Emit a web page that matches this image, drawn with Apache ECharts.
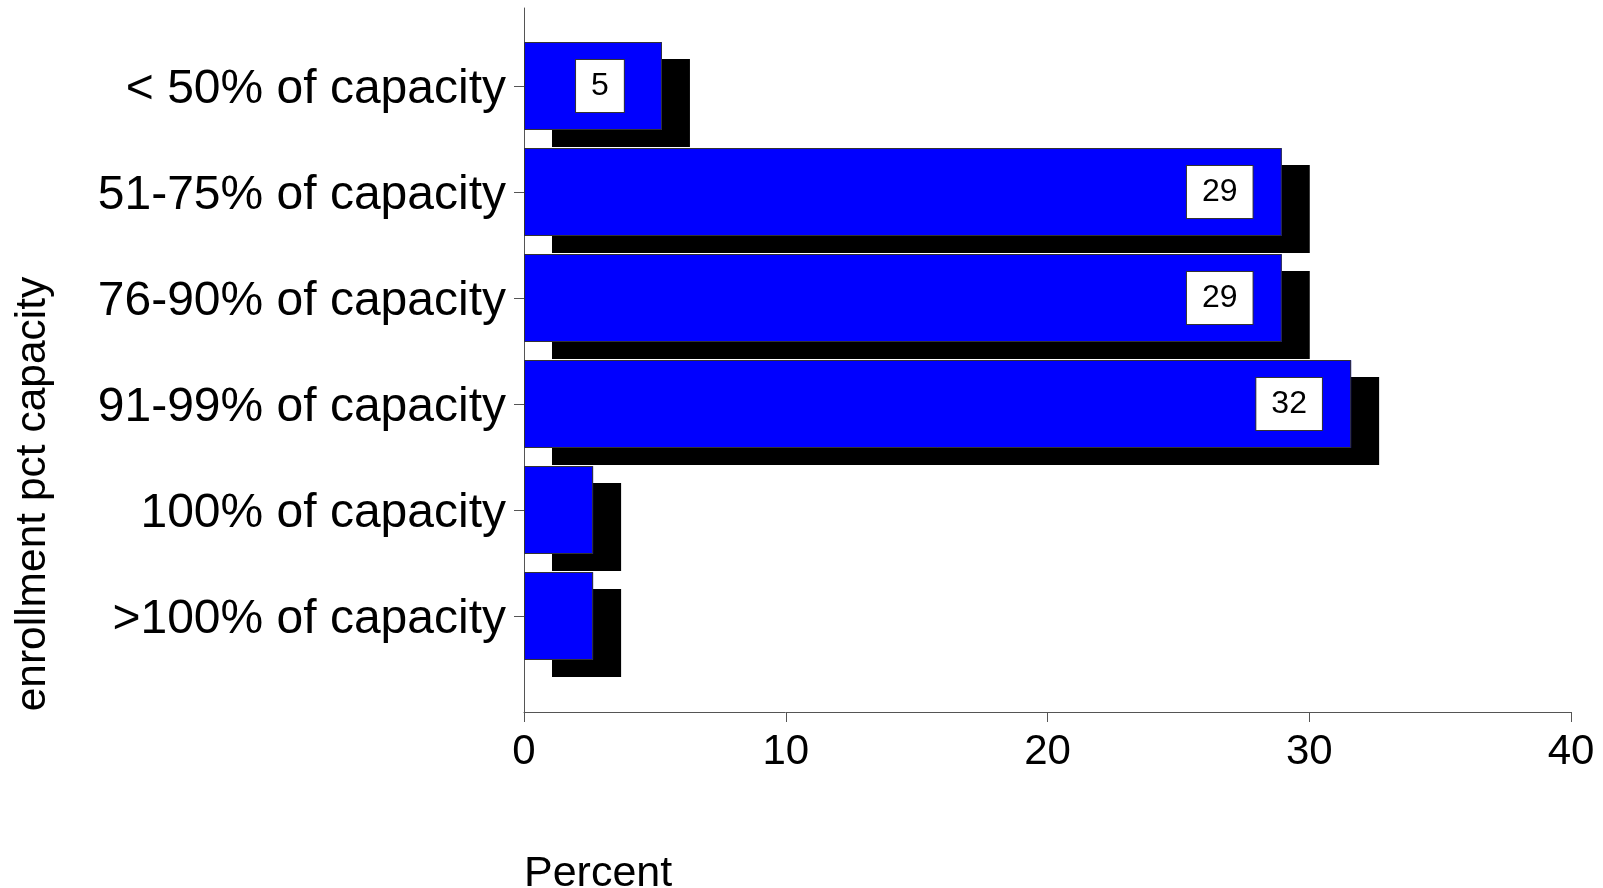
<!DOCTYPE html>
<html>
<head>
<meta charset="utf-8">
<script src="https://cdn.jsdelivr.net/npm/echarts@6/dist/echarts.min.js"></script>
<style>html,body{margin:0;padding:0;background:#fff}#c{width:1603px;height:888px}</style>
</head>
<body>
<div id="c"></div>
<script>
const categories = ['< 50% of capacity', '51-75% of capacity', '76-90% of capacity', '91-99% of capacity', '100% of capacity', '>100% of capacity'];
const percents = [5.27, 28.95, 28.95, 31.6, 2.64, 2.64];
const labelShown = [true, true, true, true, false, false];
const xTicks = [0, 10, 20, 30, 40];
const xName = 'Percent';
const yName = 'enrollment pct capacity';

const FONT = 'Liberation Sans, Arial, sans-serif';
const chart = echarts.init(document.getElementById('c'), null, {renderer: 'canvas'});
chart.setOption({
  animation: false,
  backgroundColor: '#fff',
  grid: [
    {left: 524, right: 32, top: 33, height: 636},
    {left: 524, right: 32, top: 8, bottom: 176}
  ],
  xAxis: [
    {gridIndex: 0, type: 'value', min: xTicks[0], max: xTicks[xTicks.length - 1], show: false},
    {gridIndex: 1, type: 'value', min: xTicks[0], max: xTicks[xTicks.length - 1], interval: 10,
      axisLine: {show: true, lineStyle: {color: '#555', width: 1}},
      axisTick: {show: true, length: 10, lineStyle: {color: '#555'}},
      axisLabel: {show: true, fontSize: 42, fontFamily: FONT, color: '#000', margin: 19},
      splitLine: {show: false}}
  ],
  yAxis: [
    {gridIndex: 0, type: 'category', inverse: true, data: categories,
      axisLine: {show: false},
      axisTick: {show: true, length: 10, alignWithLabel: true, lineStyle: {color: '#555'}},
      axisLabel: {margin: 18, formatter: v => '{a|' + v + '}',
        rich: {a: {fontSize: 48, fontFamily: FONT, color: '#000', padding: [7, 0, 0, 0]}}},
      splitLine: {show: false}},
    {gridIndex: 1, type: 'value', min: 0, max: 1,
      axisLine: {show: true, lineStyle: {color: '#555', width: 1}},
      axisTick: {show: false}, axisLabel: {show: false}, splitLine: {show: false}}
  ],
  graphic: [
    {type: 'text', left: 524, top: 853, style: {text: xName, font: '43px ' + FONT, fill: '#000'}},
    {type: 'text', x: 33, y: 494, rotation: Math.PI / 2,
      style: {text: yName, font: '42.5px ' + FONT, fill: '#000', align: 'center', verticalAlign: 'middle'}}
  ],
  series: [{
    type: 'bar', xAxisIndex: 0, yAxisIndex: 0, data: percents, barWidth: 88,
    itemStyle: {color: '#0000ff', borderWidth: 0,
      shadowColor: '#000', shadowBlur: 0, shadowOffsetX: 28, shadowOffsetY: 17},
    emphasis: {disabled: true}, silent: true
  }, {
    type: 'bar', xAxisIndex: 0, yAxisIndex: 0, barWidth: 88, barGap: '-100%',
    data: percents.map((v, i) => ({value: v, label: {show: labelShown[i]}})),
    itemStyle: {color: 'rgba(0,0,0,0)', borderColor: '#333', borderWidth: 1},
    emphasis: {disabled: true}, silent: true,
    label: {
      position: ['100%', '50%'], align: 'center', verticalAlign: 'middle', offset: [-62, 0],
      formatter: p => Math.round(p.value),
      fontSize: 32, lineHeight: 32, fontFamily: FONT, color: '#000',
      backgroundColor: '#fff', borderColor: '#333', borderWidth: 1, padding: [10, 15]
    }
  }]
});
</script>
</body>
</html>
